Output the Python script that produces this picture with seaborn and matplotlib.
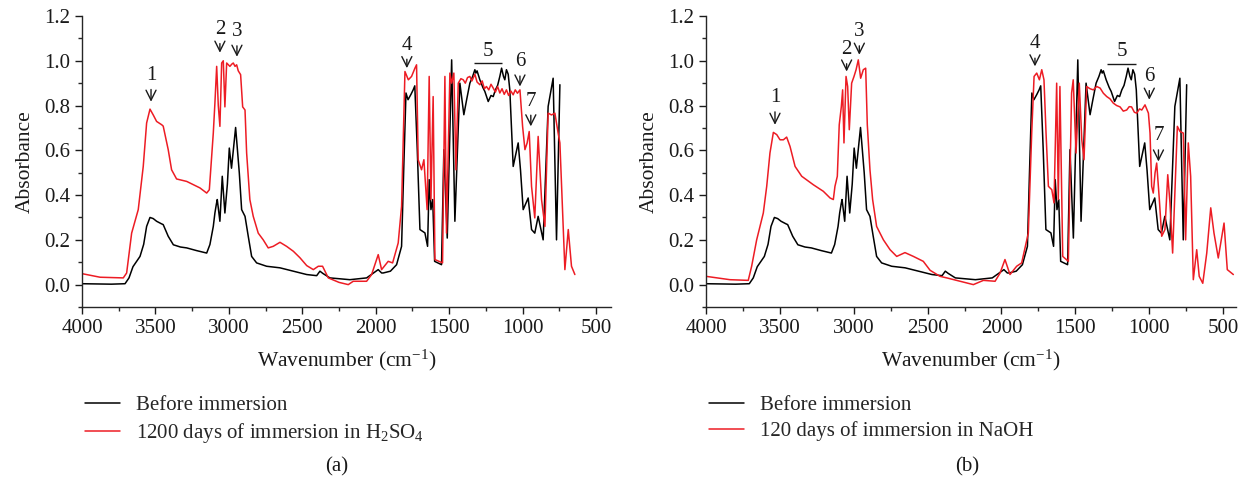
import numpy as np
import pandas as pd
import matplotlib
matplotlib.use("Agg")
import matplotlib.pyplot as plt
import seaborn as sns
from matplotlib.ticker import MultipleLocator, FormatStrFormatter

# ---------------- data ----------------
before_wn = [4000, 3900, 3800, 3707, 3680, 3653, 3605, 3580, 3560, 3537, 3515, 3492, 3460, 3447,
             3413, 3378, 3330, 3287, 3220, 3151, 3129, 3106, 3095, 3085, 3079, 3061, 3045, 3027,
             3010, 2997, 2982, 2954, 2929, 2913, 2890, 2868, 2845, 2811, 2743, 2652, 2561, 2470,
             2402, 2380, 2360, 2312, 2176, 2062, 1983, 1960, 1949, 1900, 1858, 1824, 1810, 1794,
             1780, 1760, 1745, 1734, 1717, 1699, 1665, 1647, 1636, 1624, 1612, 1599, 1552, 1536,
             1513, 1483, 1461, 1427, 1400, 1381, 1359, 1340, 1325, 1318, 1310, 1291, 1270, 1257,
             1234, 1215, 1200, 1185, 1170, 1155, 1143, 1130, 1121, 1110, 1098, 1087, 1064, 1030,
             1014, 996, 962, 939, 917, 894, 860, 826, 792, 769, 746]
before_abs = [0.004, 0.003, 0.002, 0.004, 0.030, 0.080, 0.126, 0.180, 0.260, 0.300, 0.295, 0.283, 0.272, 0.268,
              0.216, 0.178, 0.168, 0.164, 0.152, 0.141, 0.179, 0.260, 0.320, 0.360, 0.380, 0.283, 0.484, 0.320,
              0.450, 0.610, 0.520, 0.702, 0.500, 0.335, 0.305, 0.216, 0.126, 0.097, 0.082, 0.075, 0.060, 0.045,
              0.040, 0.060, 0.050, 0.030, 0.022, 0.030, 0.067, 0.052, 0.052, 0.060, 0.089, 0.171, 0.500, 0.856,
              0.826, 0.850, 0.870, 0.888, 0.600, 0.246, 0.231, 0.171, 0.469, 0.335, 0.380, 0.104, 0.089, 0.603,
              0.208, 1.004, 0.283, 0.900, 0.759, 0.826, 0.900, 0.930, 0.960, 0.945, 0.955, 0.915, 0.880, 0.863,
              0.818, 0.845, 0.840, 0.870, 0.890, 0.930, 0.967, 0.930, 0.915, 0.960, 0.940, 0.870, 0.528, 0.633,
              0.510, 0.335, 0.387, 0.246, 0.230, 0.305, 0.200, 0.796, 0.922, 0.200, 0.893]

acid_wn = [4000, 3877, 3719, 3696, 3662, 3617, 3583, 3560, 3537, 3525, 3515, 3492, 3457, 3447, 3413,
           3390, 3356, 3287, 3197, 3151, 3133, 3122, 3106, 3095, 3083, 3072, 3061, 3049, 3038, 3027,
           3015, 2993, 2980, 2970, 2958, 2947, 2936, 2920, 2906, 2890, 2879, 2857, 2834, 2800, 2766,
           2732, 2698, 2652, 2607, 2561, 2516, 2470, 2425, 2391, 2362, 2323, 2250, 2187, 2153, 2062,
           2028, 1983, 1960, 1915, 1885, 1847, 1824, 1801, 1778, 1756, 1733, 1722, 1711, 1688, 1672,
           1650, 1636, 1624, 1609, 1597, 1545, 1529, 1518, 1495, 1483, 1468, 1454, 1438, 1420, 1404,
           1390, 1375, 1359, 1345, 1325, 1310, 1291, 1275, 1260, 1246, 1230, 1215, 1200, 1185, 1170,
           1155, 1140, 1125, 1110, 1095, 1080, 1064, 1050, 1035, 1018, 1000, 984, 969, 955, 939,
           917, 894, 871, 848, 826, 803, 780, 758, 746, 712, 689, 667, 644]
acid_abs = [0.049, 0.033, 0.030, 0.052, 0.230, 0.335, 0.528, 0.722, 0.784, 0.770, 0.758, 0.729, 0.714, 0.708, 0.603,
            0.513, 0.472, 0.461, 0.432, 0.409, 0.424, 0.528, 0.677, 0.811, 0.975, 0.800, 0.707, 0.990, 1.000, 0.794,
            0.990, 0.975, 0.985, 0.990, 0.975, 0.982, 0.955, 0.938, 0.794, 0.780, 0.588, 0.380, 0.305, 0.230, 0.200,
            0.164, 0.171, 0.189, 0.171, 0.149, 0.120, 0.085, 0.067, 0.082, 0.082, 0.030, 0.010, 0.000, 0.015, 0.015,
            0.045, 0.134, 0.067, 0.104, 0.097, 0.186, 0.350, 0.952, 0.915, 0.930, 0.967, 0.982, 0.558, 0.513, 0.558,
            0.335, 0.930, 0.380, 0.840, 0.112, 0.097, 0.930, 0.230, 0.945, 0.900, 0.945, 0.513, 0.900, 0.920, 0.915,
            0.900, 0.925, 0.930, 0.910, 0.940, 0.905, 0.893, 0.910, 0.875, 0.885, 0.870, 0.895, 0.878, 0.860, 0.885,
            0.856, 0.875, 0.850, 0.870, 0.845, 0.865, 0.848, 0.870, 0.855, 0.870, 0.707, 0.603, 0.633, 0.684, 0.439,
            0.298, 0.662, 0.380, 0.260, 0.766, 0.758, 0.766, 0.677, 0.633, 0.067, 0.246, 0.082, 0.045]

base_wn = [4000, 3838, 3714, 3691, 3657, 3612, 3589, 3567, 3544, 3521, 3499, 3476, 3454, 3431, 3397,
           3352, 3273, 3206, 3160, 3138, 3127, 3111, 3098, 3084, 3075, 3066, 3052, 3041, 3030, 3014,
           2998, 2984, 2969, 2953, 2935, 2919, 2908, 2890, 2872, 2845, 2799, 2754, 2709, 2653, 2596,
           2529, 2483, 2416, 2370, 2280, 2190, 2122, 2043, 2009, 1976, 1942, 1897, 1863, 1818, 1795,
           1779, 1761, 1743, 1727, 1712, 1698, 1682, 1659, 1644, 1626, 1615, 1604, 1585, 1547, 1525,
           1514, 1495, 1473, 1456, 1441, 1423, 1400, 1378, 1355, 1332, 1310, 1287, 1265, 1243, 1220,
           1197, 1175, 1152, 1135, 1119, 1100, 1084, 1065, 1050, 1028, 1005, 994, 983, 972, 960,
           949, 931, 915, 893, 874, 859, 841, 809, 791, 769, 753, 735, 719, 701, 678,
           661, 637, 610, 583, 561, 532, 493, 471, 430]
base_abs = [0.037, 0.022, 0.019, 0.082, 0.200, 0.320, 0.439, 0.588, 0.680, 0.670, 0.647, 0.647, 0.659, 0.617, 0.528,
            0.484, 0.446, 0.417, 0.387, 0.380, 0.439, 0.484, 0.714, 0.794, 0.870, 0.633, 0.930, 0.885, 0.692, 0.900,
            0.930, 0.960, 1.004, 0.922, 0.960, 0.967, 0.714, 0.513, 0.380, 0.260, 0.200, 0.156, 0.126, 0.143, 0.126,
            0.104, 0.064, 0.037, 0.030, 0.015, 0.000, 0.019, 0.015, 0.052, 0.112, 0.045, 0.082, 0.097, 0.230, 0.677,
            0.930, 0.945, 0.915, 0.960, 0.915, 0.677, 0.439, 0.424, 0.365, 0.900, 0.380, 0.885, 0.126, 0.104, 0.856,
            0.915, 0.588, 0.900, 0.647, 0.558, 0.885, 0.875, 0.870, 0.885, 0.878, 0.855, 0.840, 0.830, 0.811, 0.800,
            0.794, 0.775, 0.780, 0.795, 0.794, 0.770, 0.766, 0.785, 0.780, 0.803, 0.766, 0.677, 0.439, 0.409, 0.499,
            0.543, 0.380, 0.216, 0.246, 0.491, 0.365, 0.141, 0.707, 0.684, 0.677, 0.200, 0.633, 0.484, 0.022, 0.156,
            0.037, 0.006, 0.141, 0.343, 0.230, 0.119, 0.275, 0.067, 0.045]

legend_before = "Before immersion"
legend_acid = "1200 days of immersion in H$_2$SO$_4$"
legend_base = "120 days of immersion in NaOH"

# peak markers: (label, wavenumber, arrow tip, text centre)
peaks_a = [("1", 3530, 0.817, 0.935), ("2", 3061, 1.036, 1.14), ("3", 2945, 1.018, 1.13),
           ("4", 1788, 0.967, 1.07), ("6", 1018, 0.885, 0.995), ("7", 944, 0.707, 0.82)]
band5_a = (1331, 1143, 0.99, 1.04)
peaks_b = [("1", 3533, 0.714, 0.835), ("2", 3048, 0.952, 1.05), ("3", 2962, 1.027, 1.13),
           ("4", 1773, 0.975, 1.075), ("6", 999, 0.826, 0.93), ("7", 937, 0.55, 0.665)]
band5_b = (1287, 1088, 0.987, 1.04)

# ---------------- style ----------------
sns.set_style("ticks")
plt.rcParams["font.family"] = ["Liberation Serif", "DejaVu Serif"]
plt.rcParams["mathtext.fontset"] = "custom"
plt.rcParams["mathtext.rm"] = "Liberation Serif"
plt.rcParams["mathtext.it"] = "Liberation Serif:italic"
plt.rcParams["axes.linewidth"] = 1.0
FS = 15
RED = "#ed1c24"
INK = "#1a1a1a"

fig = plt.figure(figsize=(12.42, 4.84), dpi=100)
ax_a = fig.add_axes([82 / 1242, 1 - 307 / 484, (611 - 82) / 1242, (307 - 16) / 484])
ax_b = fig.add_axes([706 / 1242, 1 - 307 / 484, (1236 - 706) / 1242, (307 - 16) / 484])


def draw(ax, red_wn, red_abs, red_label, peaks, band5, xmin):
    df_b = pd.DataFrame({"wn": before_wn, "abs": before_abs})
    df_r = pd.DataFrame({"wn": red_wn, "abs": red_abs})
    sns.lineplot(data=df_b, x="wn", y="abs", ax=ax, color="black", lw=1.1,
                 sort=False, estimator=None, label=legend_before)
    sns.lineplot(data=df_r, x="wn", y="abs", ax=ax, color=RED, lw=1.1,
                 sort=False, estimator=None, label=red_label)
    ax.set_xlim(4000, xmin)
    ax.set_ylim(-0.1, 1.2)
    ax.xaxis.set_major_locator(MultipleLocator(500))
    ax.xaxis.set_minor_locator(MultipleLocator(250))
    ax.yaxis.set_major_locator(MultipleLocator(0.2))
    ax.yaxis.set_minor_locator(MultipleLocator(0.1))
    ax.yaxis.set_major_formatter(FormatStrFormatter("%.1f"))
    ax.tick_params(axis="both", which="major", direction="out", length=5, width=1,
                   labelsize=FS, colors=INK)
    ax.tick_params(axis="both", which="minor", direction="out", length=3, width=1)
    sns.despine(ax=ax)
    ax.set_xlabel("Wavenumber (cm$^{-1}$)", fontsize=FS + 0.5, labelpad=7, color=INK)
    ax.set_ylabel("Absorbance", fontsize=FS + 0.5, labelpad=7, color=INK)
    for lab, wn, tip, ty in peaks:
        ax.annotate(lab, xy=(wn, tip), xytext=(wn, ty), ha="center", va="center",
                    fontsize=FS, color=INK,
                    arrowprops=dict(arrowstyle="->", lw=1.0, color=INK,
                                    shrinkA=1, shrinkB=0, mutation_scale=18))
    x0, x1, yl, yt = band5
    ax.hlines(yl, x0, x1, color=INK, lw=1.0)
    ax.text((x0 + x1) / 2, yt, "5", ha="center", va="center", fontsize=FS, color=INK)
    ax.legend(loc="upper left", bbox_to_anchor=(-0.01, -0.275), frameon=False,
              fontsize=FS, handlelength=1.7, handletextpad=0.75, labelspacing=0.3,
              borderaxespad=0)


draw(ax_a, acid_wn, acid_abs, legend_acid, peaks_a, band5_a, 398)
draw(ax_b, base_wn, base_abs, legend_base, peaks_b, band5_b, 412)

fig.text(337 / 1242, 1 - 467 / 484, "(a)", ha="center", va="center", fontsize=FS, color=INK)
fig.text(967 / 1242, 1 - 467 / 484, "(b)", ha="center", va="center", fontsize=FS, color=INK)

fig.savefig("out.png", dpi=100)
